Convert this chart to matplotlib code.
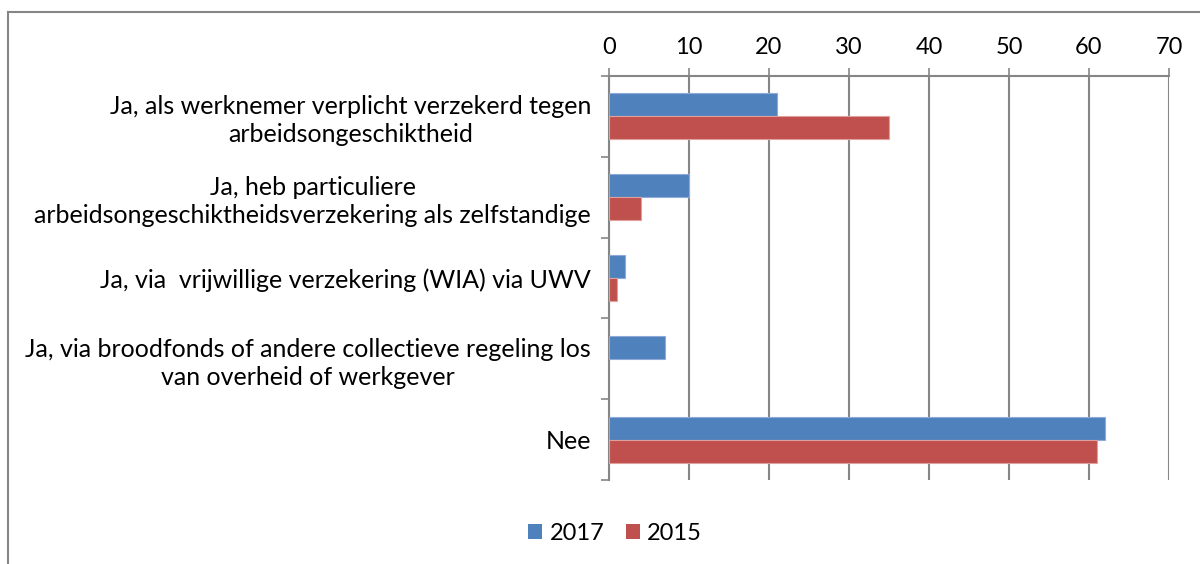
import matplotlib
matplotlib.use("Agg")
import matplotlib.pyplot as plt
from matplotlib.lines import Line2D
from matplotlib.patches import Patch
import numpy as np

categories = [
    "Ja, als werknemer verplicht verzekerd tegen\narbeidsongeschiktheid",
    "Ja, heb particuliere\narbeidsongeschiktheidsverzekering als zelfstandige",
    "Ja, via  vrijwillige verzekering (WIA) via UWV",
    "Ja, via broodfonds of andere collectieve regeling los\nvan overheid of werkgever",
    "Nee",
]
series_names = ["2017", "2015"]
values_2017 = [21, 10, 2, 7, 62]
values_2015 = [35, 4, 1, 0, 61]
xticks = [0, 10, 20, 30, 40, 50, 60, 70]

blue = "#4F81BD"
red = "#C0504D"
grid_c = "#868686"

plt.rcParams['font.family'] = ['Lato', 'DejaVu Sans']

fig = plt.figure(figsize=(12, 5.64), dpi=100)
W, H = 1200, 564
ax = fig.add_axes([609 / W, 1 - 480 / H, (1169 - 609) / W, (480 - 76) / H])

n = len(categories)
y = np.arange(n)
bh = 0.285
ax.barh(y - bh / 2, values_2017, height=bh, color=blue, edgecolor="#8EAADB",
        linewidth=[0.8 if v else 0 for v in values_2017], zorder=3)
ax.barh(y + bh / 2, values_2015, height=bh, color=red, edgecolor="#E0A09E",
        linewidth=[0.8 if v else 0 for v in values_2015], zorder=3)

ax.set_ylim(n - 0.5, -0.5)
ax.set_xlim(0, 70)
ax.xaxis.tick_top()
ax.set_xticks(xticks)
ax.set_xticklabels([str(t) for t in xticks], fontsize=17)
ax.tick_params(axis='x', direction='out', length=6, width=1.2, color=grid_c, pad=7)
ax.grid(axis='x', color=grid_c, linewidth=1.5, zorder=0)

ax.set_yticks(y)
ax.set_yticklabels(categories, fontsize=18, multialignment='center', linespacing=1.25)
ax.tick_params(axis='y', length=0, pad=13)
ax.set_yticks(np.arange(-0.5, n, 1.0), minor=True)
ax.tick_params(axis='y', which='minor', direction='out', length=6, width=1.2, color=grid_c)

for s in ['right', 'bottom']:
    ax.spines[s].set_visible(False)
for s in ['left', 'top']:
    ax.spines[s].set_color(grid_c)
    ax.spines[s].set_linewidth(1.5)

fig.add_artist(Line2D([8 / W, 1.0], [1 - 12 / H, 1 - 12 / H], color=grid_c, linewidth=1.5))
fig.add_artist(Line2D([8 / W, 8 / W], [1 - 12 / H, 0.0], color=grid_c, linewidth=1.5))

handles = [Patch(facecolor=blue), Patch(facecolor=red)]
fig.legend(handles, series_names, loc='center', bbox_to_anchor=(615 / W, 1 - 533 / H),
           ncol=2, frameon=False, fontsize=17, handlelength=0.6, handleheight=0.6,
           handletextpad=0.3, columnspacing=0.9)

fig.savefig("out.png", dpi=100)
